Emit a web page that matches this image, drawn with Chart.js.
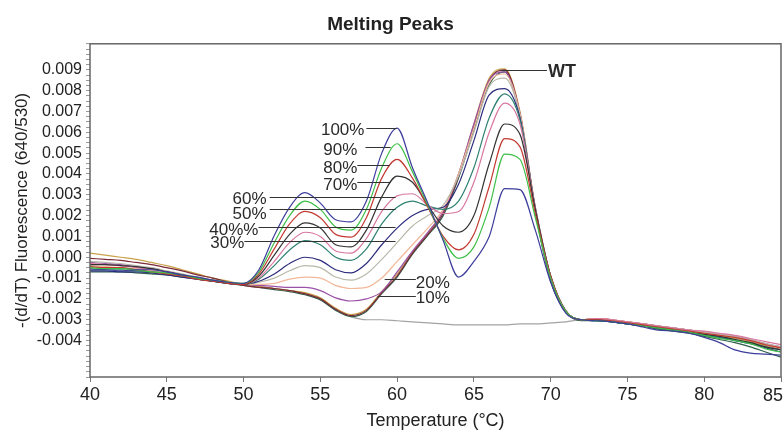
<!DOCTYPE html>
<html>
<head>
<meta charset="utf-8">
<script src="https://cdn.jsdelivr.net/npm/chart.js@4.4.0/dist/chart.umd.min.js"></script>
<style>
  html, body { margin: 0; padding: 0; background: #fff; }
  #wrap { width: 784px; height: 432px; }
</style>
</head>
<body>
<div id="wrap"><canvas id="myChart"></canvas></div>
<script>
// -(d/dT) fluorescence values, in units of 0.001
const temps = [40,41,42,43,44,45,46,47,48,49,50,51,52,53,54,55,56,57,58,59,60,61,62,63,64,65,66,67,68,69,70,71,72,73,74,75,76,77,78,79,80,81,82,83,84,85];

const p100 = [-0.6,-0.6,-0.65,-0.6,-0.6,-0.7,-0.85,-0.95,-1.1,-1.2, -1.25,-0.6,1.05,2.4,3.1,2.6,1.8,1.7,2.7,5.0,6.2,4.3,2.6,0.8,-0.95,-0.2,1.0,3.3,3.25,1.3,-1.2,-2.7,-3.0, -3.05,-3.1,-3.2,-3.35,-3.5,-3.55,-3.65,-3.85,-4.1,-4.45,-4.6,-4.65,-4.7];
const p90 = [-0.5,-0.55,-0.55,-0.6,-0.7,-0.75,-0.85,-1.0,-1.1,-1.2, -1.25,-0.7,0.7,2.0,2.7,2.3,1.45,1.3,2.3,4.3,5.45,4.1,2.5,0.9,-0.05,0.5,2.4,4.95,4.7,1.9,-1.0,-2.6,-3.0, -3.05,-3.1,-3.2,-3.3,-3.4,-3.5,-3.6,-3.75,-3.9,-4.0,-4.15,-4.4,-4.55];
const p80 = [-0.45,-0.5,-0.5,-0.6,-0.7,-0.8,-0.9,-1.05,-1.15,-1.25, -1.3,-0.8,0.4,1.6,2.2,1.9,1.1,0.97,1.9,3.8,4.7,3.8,2.4,1.0,0.35,1.1,3.4,5.7,5.3,2.1,-0.9,-2.6,-3.0, -3.0,-3.05,-3.15,-3.25,-3.35,-3.45,-3.55,-3.65,-3.75,-3.85,-4.0,-4.2,-4.35];
const p70 = [-0.35,-0.35,-0.4,-0.45,-0.55,-0.7,-0.85,-1.0,-1.15,-1.25, -1.3,-0.9,0.1,1.1,1.65,1.4,0.6,0.5,1.3,2.9,3.9,3.6,2.5,1.5,1.2,2.0,4.5,6.4,5.9,2.3,-0.9,-2.6,-3.0, -3.0,-3.1,-3.2,-3.3,-3.4,-3.5,-3.6,-3.7,-3.8,-3.95,-4.1,-4.3,-4.45];
const p60 = [-0.3,-0.35,-0.4,-0.5,-0.6,-0.7,-0.85,-1.0,-1.1,-1.25, -1.3,-1.0,-0.2,0.7,1.2,1.0,0.3,0.2,0.9,2.2,2.95,3.05,2.5,2.1,2.2,3.6,6.0,7.4,6.4,2.4,-0.9,-2.6,-3.0, -2.95,-3.0,-3.1,-3.2,-3.3,-3.4,-3.5,-3.55,-3.65,-3.75,-3.9,-4.05,-4.2];
const p50 = [-0.55,-0.6,-0.6,-0.65,-0.7,-0.75,-0.9,-1.0,-1.15,-1.25, -1.3,-1.05,-0.4,0.35,0.8,0.6,0.0,-0.15,0.4,1.6,2.4,2.7,2.45,2.3,2.7,4.3,6.7,7.85,6.6,2.4,-0.9,-2.6,-3.0, -3.05,-3.1,-3.2,-3.3,-3.4,-3.5,-3.6,-3.7,-3.85,-3.95,-4.1,-4.3,-4.45];
const p40 = [-0.65,-0.65,-0.7,-0.7,-0.75,-0.85,-0.95,-1.05,-1.15,-1.25, -1.3,-1.15,-0.8,-0.3,0.0,-0.15,-0.6,-0.75,-0.3,0.6,1.4,2.0,2.3,2.4,3.5,5.6,7.8,8.1,6.7,2.3,-1.0,-2.6,-3.0, -3.05,-3.1,-3.2,-3.3,-3.4,-3.5,-3.6,-3.75,-3.85,-4.0,-4.15,-4.35,-4.55];
const p30 = [-0.2,-0.25,-0.3,-0.4,-0.5,-0.65,-0.8,-0.95,-1.1,-1.2, -1.3,-1.2,-1.0,-0.65,-0.4,-0.5,-0.95,-1.1,-0.8,-0.1,0.7,1.5,2.0,2.5,3.9,6.0,8.2,8.6,6.8,2.3,-1.0,-2.6,-3.0, -3.0,-3.05,-3.15,-3.25,-3.3,-3.4,-3.5,-3.6,-3.7,-3.8,-3.95,-4.15,-4.3];
const p20 = [-0.4,-0.45,-0.5,-0.55,-0.65,-0.75,-0.9,-1.0,-1.15,-1.25, -1.3,-1.3,-1.25,-1.05,-0.95,-1.0,-1.35,-1.5,-1.45,-1.0,-0.2,0.6,1.4,2.3,4.0,6.2,8.4,8.8,6.9,2.3,-1.0,-2.6,-3.0, -2.95,-3.0,-3.1,-3.2,-3.3,-3.4,-3.5,-3.6,-3.7,-3.85,-4.0,-4.2,-4.4];
const p10 = [-0.25,-0.3,-0.35,-0.45,-0.55,-0.7,-0.85,-1.0,-1.1,-1.25, -1.3,-1.35,-1.4,-1.45,-1.45,-1.6,-1.95,-2.1,-2.0,-1.65,-0.7,0.3,1.2,2.2,4.0,6.4,8.5,8.9,6.9,2.3,-1.0,-2.6,-3.0, -3.0,-3.05,-3.15,-3.25,-3.35,-3.4,-3.5,-3.6,-3.7,-3.8,-3.95,-4.15,-4.3];
const wtA = [-0.05,-0.1,-0.15,-0.25,-0.35,-0.5,-0.65,-0.85,-1.0,-1.2, -1.35,-1.45,-1.5,-1.6,-1.75,-2.0,-2.5,-2.8,-2.55,-1.7,-0.9,0.2,1.1,2.1,3.9,6.3,8.5,9.0,6.9,2.3,-1.1,-2.6,-3.0, -2.95,-3.0,-3.1,-3.2,-3.3,-3.4,-3.5,-3.6,-3.7,-3.85,-4.0,-4.2,-4.4];
const wtB = [0.2,0.1,0.0,-0.1,-0.25,-0.4,-0.6,-0.8,-1.0,-1.15, -1.3,-1.4,-1.5,-1.6,-1.7,-1.95,-2.45,-2.75,-2.5,-1.65,-0.8,0.25,1.15,2.2,4.0,6.4,8.6,9.05,7.0,2.4,-1.0,-2.6,-3.0, -3.0,-3.05,-3.15,-3.25,-3.35,-3.45,-3.55,-3.65,-3.75,-3.9,-4.05,-4.25,-4.4];
const wtC = [-0.7,-0.7,-0.7,-0.75,-0.8,-0.85,-0.95,-1.05,-1.15,-1.25, -1.35,-1.45,-1.55,-1.65,-1.8,-2.05,-2.55,-2.85,-2.6,-1.75,-0.95,0.15,1.05,2.0,3.8,6.1,8.3,8.9,6.8,2.2,-1.15,-2.65,-3.05, -3.05,-3.1,-3.2,-3.3,-3.45,-3.55,-3.65,-3.8,-3.95,-4.1,-4.3,-4.55,-4.8];
const noTemplate = [-0.45,-0.5,-0.55,-0.6,-0.7,-0.8,-0.9,-1.05,-1.15,-1.25, -1.3,-1.4,-1.5,-1.6,-1.75,-2.0,-2.5,-2.85,-3.0,-3.0,-3.05,-3.1,-3.15,-3.2,-3.25,-3.25,-3.25,-3.25,-3.2,-3.2,-3.15,-3.1,-3.0, -3.0,-3.05,-3.1,-3.2,-3.3,-3.4,-3.5,-3.6,-3.75,-3.85,-4.0,-4.2,-4.35];

const xTicks = [40,45,50,55,60,65,70,75,80,85];
const yTicks = [-4,-3,-2,-1,0,1,2,3,4,5,6,7,8,9];

const FONT = '"Liberation Sans Narrow", "Liberation Sans", Arial, sans-serif';

// label text, text anchor (temp, value), leader line (from temp, to temp, value)
const callouts = [
  { text: '100%', tx: 57.87, ty: 6.1, x1: 58.0, x2: 59.97, ly: 6.22, align: 'right' },
  { text: '90%', tx: 57.41, ty: 5.12, x1: 57.94, x2: 59.58, ly: 5.31, align: 'right' },
  { text: '80%', tx: 57.41, ty: 4.26, x1: 57.41, x2: 59.51, ly: 4.45, align: 'right' },
  { text: '70%', tx: 57.41, ty: 3.44, x1: 57.41, x2: 59.58, ly: 3.59, align: 'right' },
  { text: '60%', tx: 51.5, ty: 2.78, x1: 51.7, x2: 59.9, ly: 2.87, align: 'right' },
  { text: '50%', tx: 51.5, ty: 2.06, x1: 51.7, x2: 59.9, ly: 2.3, align: 'right' },
  { text: '40%%', tx: 50.97, ty: 1.29, x1: 50.97, x2: 59.9, ly: 1.44, align: 'right' },
  { text: '30%', tx: 50.05, ty: 0.67, x1: 50.05, x2: 59.9, ly: 0.77, align: 'right' },
  { text: '20%', tx: 61.22, ty: -1.24, x1: 59.19, x2: 61.22, ly: -1.05, align: 'left' },
  { text: '10%', tx: 61.22, ty: -1.96, x1: 58.73, x2: 61.22, ly: -1.87, align: 'left' },
  { text: 'WT', tx: 69.83, ty: 8.9, x1: 66.74, x2: 69.76, ly: 9.0, align: 'left', bold: true }
];

const series = [
  { label: '100%', data: p100, color: '#3d3d9c' },
  { label: '90%', data: p90, color: '#3fbf48' },
  { label: '80%', data: p80, color: '#c43a32' },
  { label: '70%', data: p70, color: '#333333' },
  { label: '60%', data: p60, color: '#d877a0' },
  { label: '50%', data: p50, color: '#2f8272' },
  { label: '40%', data: p40, color: '#2c2c7e' },
  { label: '30%', data: p30, color: '#b9b8aa' },
  { label: '20%', data: p20, color: '#f2b899' },
  { label: '10%', data: p10, color: '#9a52a6' },
  { label: 'WT a', data: wtA, color: '#7b2a38' },
  { label: 'WT b', data: wtB, color: '#c9a24a' },
  { label: 'WT c', data: wtC, color: '#2f5f4a' },
  { label: 'NTC', data: noTemplate, color: '#a3a3a3' }
];

const calloutPlugin = {
  id: 'callouts',
  afterDatasetsDraw(chart) {
    const { ctx, chartArea: a, scales: { x, y } } = chart;
    ctx.save();
    ctx.strokeStyle = '#666';
    ctx.lineWidth = 1.5;
    ctx.strokeRect(a.left, a.top, a.right - a.left, a.bottom - a.top);

    ctx.strokeStyle = '#333';
    ctx.lineWidth = 1;
    ctx.fillStyle = '#2a2a2a';
    ctx.textBaseline = 'middle';
    callouts.forEach(c => {
      const ly = Math.round(y.getPixelForValue(c.ly)) + 0.5;
      ctx.beginPath();
      ctx.moveTo(x.getPixelForValue(c.x1), ly);
      ctx.lineTo(x.getPixelForValue(c.x2), ly);
      ctx.stroke();
      ctx.font = (c.bold ? 'bold 18px ' : '17px ') + FONT;
      ctx.textAlign = c.align;
      ctx.fillText(c.text, x.getPixelForValue(c.tx), y.getPixelForValue(c.ty));
    });

    // last x label sits flush with the canvas edge
    ctx.font = '18px ' + FONT;
    ctx.textAlign = 'right';
    ctx.fillStyle = '#222';
    ctx.fillText(String(xTicks[xTicks.length - 1]), chart.width - 1, a.bottom + 19);
    ctx.restore();
  }
};

new Chart(document.getElementById('myChart'), {
  type: 'line',
  data: {
    datasets: series.map(s => ({
      label: s.label,
      data: temps.map((t, i) => ({ x: t, y: s.data[i] })),
      borderColor: s.color,
      borderWidth: 1.2,
      pointRadius: 0,
      fill: false,
      cubicInterpolationMode: 'monotone'
    }))
  },
  options: {
    responsive: true,
    maintainAspectRatio: false,
    animation: false,
    layout: { padding: { top: 0, right: 3, bottom: 0, left: 0 } },
    plugins: {
      legend: { display: false },
      tooltip: { enabled: false },
      title: {
        display: true,
        text: 'Melting Peaks',
        color: '#222',
        font: { family: FONT, size: 19, weight: 'bold' },
        padding: { top: 13, bottom: 8 }
      }
    },
    scales: {
      x: {
        type: 'linear',
        min: 40, max: 85,
        afterBuildTicks: s => { s.ticks = xTicks.map(v => ({ value: v })); },
        ticks: {
          color: '#222',
          font: { family: FONT, size: 18 },
          padding: 2,
          maxRotation: 0,
          callback: v => (v === xTicks[xTicks.length - 1] ? '' : String(v))
        },
        grid: { drawOnChartArea: false, tickLength: 5, color: '#777' },
        border: { display: false },
        title: {
          display: true,
          text: 'Temperature (°C)',
          color: '#222',
          font: { family: FONT, size: 18 },
          padding: { top: 0, bottom: 0 }
        },
        afterFit: s => { s.height = 55; s.paddingLeft = 0; s.paddingRight = 0; }
      },
      y: {
        min: -5.75, max: 10.25,
        ticks: {
          stepSize: 0.25,
          autoSkip: false,
          color: '#222',
          font: { family: FONT, size: 16 },
          padding: 4,
          callback: v => (yTicks.includes(v) ? (v / 1000).toFixed(3) : '')
        },
        grid: { drawOnChartArea: false, tickLength: 4, color: '#999' },
        border: { display: false },
        title: {
          display: true,
          text: '-(d/dT) Fluorescence (640/530)',
          color: '#222',
          font: { family: FONT, size: 17 },
          padding: { top: 12, bottom: 0 }
        },
        afterFit: s => { s.width = 90; s.paddingTop = 0; s.paddingBottom = 0; }
      }
    }
  },
  plugins: [calloutPlugin]
});
</script>
</body>
</html>
